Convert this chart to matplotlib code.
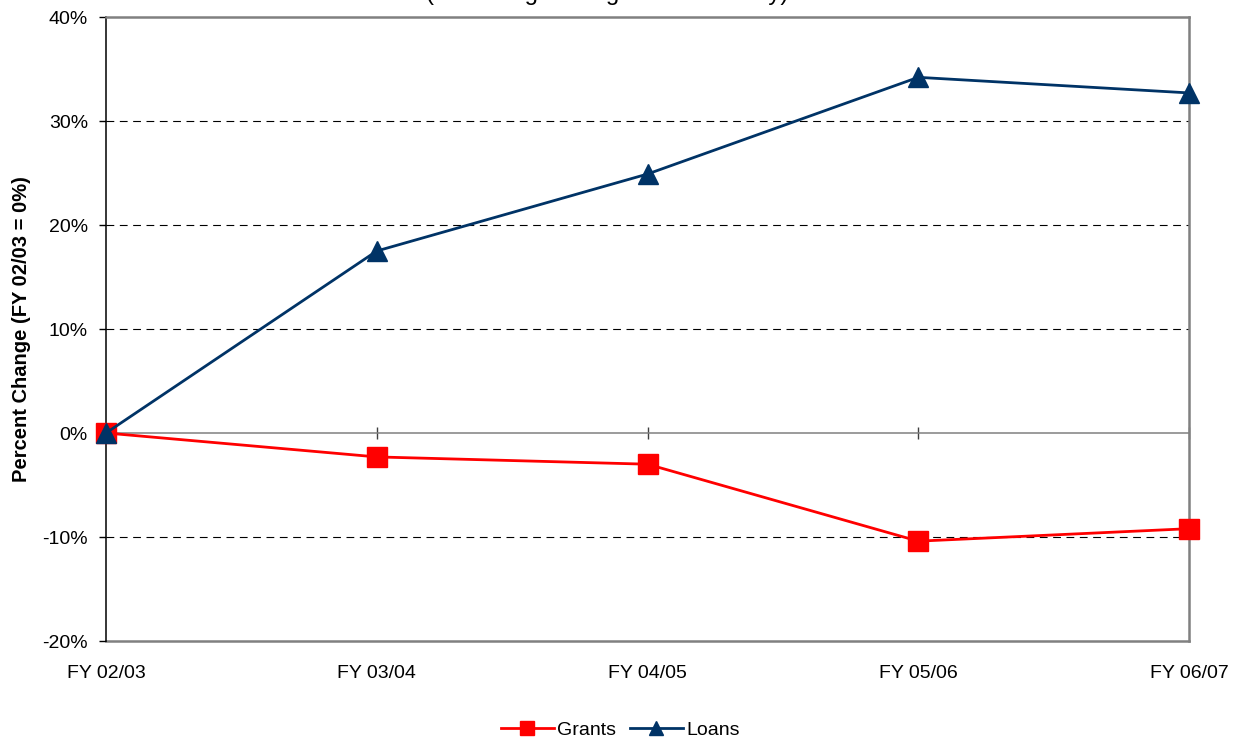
import matplotlib.pyplot as plt
from matplotlib.ticker import FuncFormatter

plt.rcParams['font.family'] = ['Liberation Sans', 'DejaVu Sans']

years = ['FY 02/03', 'FY 03/04', 'FY 04/05', 'FY 05/06', 'FY 06/07']
grants = [0.0, -2.3, -3.0, -10.4, -9.2]
loans = [0.0, 17.5, 24.9, 34.2, 32.7]

fig = plt.figure(figsize=(12.41, 7.40), dpi=100)
ax = fig.add_axes([106 / 1241, 1 - 641 / 740, (1189 - 106) / 1241, (641 - 17) / 740])

x = list(range(len(years)))
ax.plot(x, grants, color='#FF0000', lw=2.0, marker='s', markersize=14,
        label='Grants', clip_on=False, zorder=3)
ax.plot(x, loans, color='#003366', lw=2.0, marker='^', markersize=14,
        label='Loans', clip_on=False, zorder=4)

ax.set_xlim(0, len(years) - 1)
ax.set_ylim(-20, 40)
ax.set_yticks(range(-20, 41, 10))
ax.yaxis.set_major_formatter(FuncFormatter(lambda v, p: f'{v:.0f}%'))
ax.tick_params(axis='y', labelsize=14, length=5, width=1, direction='out', pad=8)

# dashed gridlines
for v in [-10, 10, 20, 30]:
    ax.axhline(v, color='black', lw=0.8, ls=(0, (7, 5)), zorder=1)

# category axis crossing at zero
ax.spines['bottom'].set_position(('data', 0))
ax.spines['bottom'].set_color('#808080')
ax.spines['bottom'].set_linewidth(1.1)
ax.set_xticks(x)
ax.tick_params(axis='x', direction='inout', length=9, width=1, color='#404040',
               labelbottom=False)

ax.spines['left'].set_color('black')
ax.spines['left'].set_linewidth(1.1)
for s in ['top', 'right']:
    ax.spines[s].set_color('#808080')
    ax.spines[s].set_linewidth(1.8)

# labels at the bottom of the plot area
sec = ax.secondary_xaxis('bottom')
sec.set_xticks(x)
sec.set_xticklabels(years)
sec.tick_params(length=0, labelsize=14, pad=17)
sec.spines['bottom'].set_color('#808080')
sec.spines['bottom'].set_linewidth(1.8)

ax.set_ylabel('Percent Change (FY 02/03 = 0%)', fontsize=14.5, fontweight='bold', labelpad=8)

# title mostly cut off at top of image
fig.text(607 / 1241, 1.0, '(Excluding Ending Balances Only)', fontsize=17.3,
         ha='center', va='baseline')

fig.legend(loc='lower center', bbox_to_anchor=(0.5, -0.022), ncol=2, frameon=False,
           fontsize=14, handlelength=2.7, handletextpad=0.2, columnspacing=0.7,
           markerscale=0.75)

plt.savefig('out.png', dpi=100)
